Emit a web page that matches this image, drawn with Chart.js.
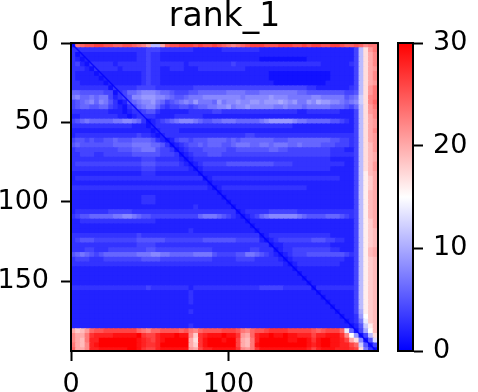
<!DOCTYPE html>
<html>
<head>
<meta charset="utf-8">
<style>
  html, body { margin: 0; background: #fff; }
  canvas { position: absolute; left: 0; top: 0; }
</style>
<script src="https://cdn.jsdelivr.net/npm/chart.js@4"></script>
</head>
<body>
<canvas id="pae" width="478" height="392"></canvas>
<canvas id="bar" width="478" height="392"></canvas>
<script>
// chart values
let titleText = "rank_1";
let xTicks = [0, 100];
let yTicks = [0, 50, 100, 150];
let barTicks = [0, 10, 20, 30];
let barRange = [0, 30];
let xRange = [0, 195];
let yRange = [0, 194];
let blockSize = 3; // each char below covers 3x3 residues
let diagonalEnds = [0, 195];

// error per block, one char per value: 0-9 then a=10 ... u=30
let paeRows = [
  "1nopp qqppo oppon mkbbk oppqq qpqpp qponm nopqq qpppq qqppq pqqpp qqpoo pomnn",
  "33333 33333 33333 34443 33333 32222 22333 33333 22222 22222 22222 22222 4bhln",
  "31222 22222 22223 34332 22222 22222 22222 22222 22222 22222 22222 22222 4bhkm",
  "32122 22222 22223 34332 22222 22222 22222 22222 11111 11111 22222 22222 4bhkm",
  "34213 33332 33333 34333 33332 33333 33334 33333 33333 33333 33322 22223 4bhkm",
  "33321 33333 23333 34332 23332 22333 33333 33222 22222 22222 22222 22222 4bhkl",
  "32222 12222 22222 34332 22222 22222 22222 22222 22111 11111 11111 22222 4bhkm",
  "32222 21222 22222 34332 22222 22222 22222 22222 22111 11111 11111 22222 4bhkm",
  "33222 22122 22222 34332 22222 22222 22222 22222 22211 11111 11112 22222 4bhkl",
  "33333 33313 33334 44433 33333 34444 44444 44444 44444 44444 33222 22223 4bhln",
  "66555 55441 34667 88876 65444 55666 66677 77666 77777 77766 55555 55544 5bhln",
  "78667 67742 34588 99988 76556 77788 88888 87888 88988 87777 78877 77756 7chmn",
  "45678 68753 12567 88976 45678 79777 69788 98899 8999a 98977 98a99 88767 8chmo",
  "45665 56643 21346 78864 34455 45667 78897 88988 88877 87776 77777 66654 6bhln",
  "33333 33322 21233 45532 22222 33333 44333 33333 33333 33322 33333 33222 4bhlm",
  "22333 33333 22123 33322 22333 33322 22222 22222 22222 22222 22222 22222 4bhkm",
  "45676 66667 78876 31234 56788 87655 66777 66666 78999 99877 66666 55432 4bhkl",
  "33333 33333 33322 21233 33333 33333 33333 33333 33333 33222 22222 22222 4bhkl",
  "22222 22222 22222 22123 33322 22222 22222 22222 22222 22222 22222 22222 4bhkm",
  "23333 33333 33334 33212 33333 33333 33333 33443 33333 33333 33333 33333 4bhkl",
  "45545 44556 55566 66532 12455 45556 66656 56666 66655 56666 66666 55443 4bhkl",
  "56555 55556 66677 77665 31234 55656 66556 77766 77677 76676 66655 54443 4bhjl",
  "34444 44444 55566 77754 43123 44455 55544 55555 55665 54444 44444 33322 4bhjl",
  "33444 33444 44455 55554 44312 34445 55444 44444 44444 44444 44444 33333 4bhjk",
  "33333 33333 33333 44433 33321 23333 33333 33333 33333 33333 33333 22222 4bhjk",
  "34444 44444 44444 55544 44432 12344 44455 55555 55544 44333 33333 33322 4bhjl",
  "33333 33333 33333 44433 33333 21233 33333 33333 33333 33333 33333 22222 4bhjl",
  "22222 22222 22222 33322 22222 22122 22222 22222 22222 22222 22222 22222 4bgjk",
  "23333 33333 33333 33333 33333 33312 33333 33333 33333 33333 33333 33222 4bgik",
  "22222 22222 22222 22222 22222 22221 22222 22222 22222 22222 22222 22222 4bgik",
  "33333 33333 33333 33333 33333 33332 12333 33333 33333 33333 22222 22222 4bgik",
  "22222 22222 22222 22222 22222 22222 21222 22222 22222 22222 22222 22222 4bgjk",
  "22222 22222 22222 33322 22222 22222 22122 22222 22222 22222 22222 22222 4bgjk",
  "22222 22222 22222 33322 22222 22222 22212 22222 22222 22222 22222 22222 4bgjk",
  "22222 22222 22222 22222 22222 23222 22221 22222 22222 22222 22222 22222 4bgjk",
  "23333 33344 44433 33333 33333 33333 33333 12333 33444 44433 33333 33333 4bgjk",
  "34556 66667 78876 55444 44444 44677 76543 21234 67888 88876 55556 66543 4bgjk",
  "22333 33333 33333 33322 22222 22222 22222 22122 22222 22222 22222 22222 4bgik",
  "22222 22222 22222 22222 22222 22222 22222 22212 22222 22222 22222 22222 4bgik",
  "22222 22222 22222 22222 22222 32222 22222 22221 22222 22222 22222 22222 4bgij",
  "33333 33333 33334 33333 33333 33333 33333 33333 12333 33333 33333 22222 4bgij",
  "34555 44444 44445 55555 44444 44455 55555 44444 21234 44444 45554 43322 4bgij",
  "33333 33333 33334 44433 33333 33333 33333 33333 33122 33333 33333 22222 4bgij",
  "33344 33344 44444 45544 44444 44444 33333 33344 33312 33444 44444 33222 4bgjk",
  "56765 45666 66667 77887 76666 67777 54444 55776 54321 23444 55555 55543 4bgjk",
  "34443 33444 44444 55554 44444 44444 33333 44443 33332 12333 33333 33322 4bgij",
  "33333 33333 33333 33333 33333 33333 33333 33333 33333 21233 33333 33222 4bgij",
  "22222 22222 22222 22222 22222 22222 22222 22222 22222 22122 22222 22222 4bgij",
  "22222 22222 22222 22222 22222 22222 22222 22222 22222 22212 22222 22222 4bgij",
  "22222 22222 22222 22222 22222 22222 22222 22222 22222 22221 22222 22222 4bgij",
  "22222 22222 22222 22222 22222 22222 22222 22222 22222 22222 12222 22222 4bgij",
  "33333 33333 33333 34333 33333 23333 33333 33333 44444 33333 31333 33333 4bgij",
  "22222 22222 22222 22222 22222 32222 22222 22222 22222 22222 22122 22222 4bgij",
  "22222 22222 22222 22222 22222 32222 22222 22222 22222 22222 22212 22222 4bgij",
  "22222 22222 22222 22222 22222 32222 22222 22222 22222 22222 22221 22222 4bgij",
  "22222 22222 22222 22222 22222 22222 22222 22222 22222 22222 22222 12222 4bgij",
  "22222 22222 22222 22222 22222 32222 22222 22222 22222 22222 22222 21222 4agij",
  "22222 22222 22222 22222 22222 22222 22222 22222 22222 22222 22222 22122 39fij",
  "22222 22222 22222 22222 22222 22222 22222 22222 22222 22222 22222 22212 37eij",
  "22222 22222 22222 22222 22222 32222 22222 22222 22222 22222 22222 22221 25cgj",
  "kijlo ppqqq qqqqo nmoop pppop nmopp ppqqq pnmop pqrrr rqqqq qpopq qqoe6 14afj",
  "mkknr sssst ttttu rqqst ttutt mirst ttutt rlkos ttutt uttss sqsst ttrmf 914bh",
  "mkjns suuuu uuuut srqst uuuuu khrtu uutuu qkjns uuuuu uttuu trtuu ttsqk h815d",
  "nkjms tuuuu uuuut srrsu uuuuu kirtu uuuuu qkjnt uuuuu uuuuu tstuu ttssq oc514",
  "okkms stttt ttuut rqqst ttttt lkqss ttttt rmlnr ttttt ttttt sqstt tsssr qh731"
].map(row => row.replace(/ /g, ""));

// same blue-white-red ramp as the colorbar
function bwr(value) {
  let t = value / barRange[1];
  let c = Math.round((t < 0.5 ? 2 * t : 2 * (1 - t)) * 255);
  return t < 0.5 ? `rgb(${c},${c},255)` : `rgb(255,${c},${c})`;
}

let blocks = [];
paeRows.forEach((row, r) => {
  for (let c = 0; c < 65; c++) {
    blocks.push({
      x: (c + 0.5) * blockSize,
      y: (r + 0.5) * blockSize,
      v: parseInt(row[c], 31),
    });
  }
});

Chart.defaults.font.family = "'DejaVu Sans'";
Chart.defaults.color = "#000";
Chart.defaults.animation = false;

// black box round the plot, like the other two spines
const frame = {
  id: "frame",
  afterDraw(chart) {
    let a = chart.chartArea;
    chart.ctx.save();
    chart.ctx.strokeStyle = "#000";
    chart.ctx.lineWidth = 2;
    chart.ctx.strokeRect(a.left, a.top, a.right - a.left, a.bottom - a.top);
    chart.ctx.restore();
  },
};

function axisStyle(values, pad) {
  return {
    border: { display: true, color: "#000", width: 2 },
    grid: {
      display: true,
      drawOnChartArea: false,
      drawTicks: true,
      tickLength: 10,
      tickColor: "#000",
      tickWidth: 2,
    },
    ticks: {
      font: { size: 27 },
      padding: pad,
      maxRotation: 0,
      autoSkip: false,
    },
    afterBuildTicks(axis) {
      axis.ticks = values.map((value) => ({ value }));
    },
  };
}

new Chart(document.getElementById("pae"), {
  type: "scatter",
  data: {
    datasets: [
      {
        data: diagonalEnds.map((d) => ({ x: d, y: d })),
        showLine: true,
        borderColor: "rgba(0,0,255,0.8)",
        borderWidth: 1.5,
        pointRadius: 0,
        order: 1,
      },
      {
        data: blocks,
        order: 2,
        pointStyle: "rect",
        pointBorderWidth: 0,
        // a pixel of overlap so no white shows between blocks
        pointRadius(ctx) {
          let s = ctx.chart.scales.x;
          let side = s.getPixelForValue(blockSize) - s.getPixelForValue(0);
          return (side + 1.1) / Math.SQRT2;
        },
        pointBackgroundColor(ctx) {
          return bwr(ctx.raw.v);
        },
      },
    ],
  },
  options: {
    responsive: false,
    events: [],
    layout: { padding: { right: 100, left: 0, top: 0, bottom: 0 } },
    plugins: {
      legend: { display: false },
      tooltip: { enabled: false },
      title: {
        display: true,
        text: titleText,
        fullSize: false,
        font: { size: 33, weight: "normal", lineHeight: 1.08 },
        padding: { top: 0, bottom: 7.4 },
      },
    },
    scales: {
      x: Object.assign(axisStyle(xTicks, 8), {
        type: "linear",
        min: xRange[0],
        max: xRange[1],
        afterFit(s) { s.height = 41; },
      }),
      y: Object.assign(axisStyle(yTicks, 12), {
        type: "linear",
        reverse: true,
        min: yRange[0],
        max: yRange[1],
        afterFit(s) { s.width = 71; },
      }),
    },
  },
  plugins: [frame],
});

new Chart(document.getElementById("bar"), {
  type: "bar",
  data: {
    labels: [""],
    datasets: [
      {
        data: [barRange],
        barPercentage: 1,
        categoryPercentage: 1,
        backgroundColor(ctx) {
          let a = ctx.chart.chartArea;
          if (!a) return "#fff";
          let g = ctx.chart.ctx.createLinearGradient(0, a.bottom, 0, a.top);
          g.addColorStop(0, bwr(barRange[0]));
          g.addColorStop(0.5, bwr((barRange[0] + barRange[1]) / 2));
          g.addColorStop(1, bwr(barRange[1]));
          return g;
        },
      },
    ],
  },
  options: {
    responsive: false,
    events: [],
    layout: { padding: { left: 398, top: 43, bottom: 41, right: 0 } },
    plugins: { legend: { display: false }, tooltip: { enabled: false } },
    scales: {
      x: { display: false },
      y: Object.assign(axisStyle(barTicks, 10), {
        position: "right",
        min: barRange[0],
        max: barRange[1],
        afterFit(s) { s.width = 65; },
      }),
    },
  },
  plugins: [frame],
});
</script>
</body>
</html>
